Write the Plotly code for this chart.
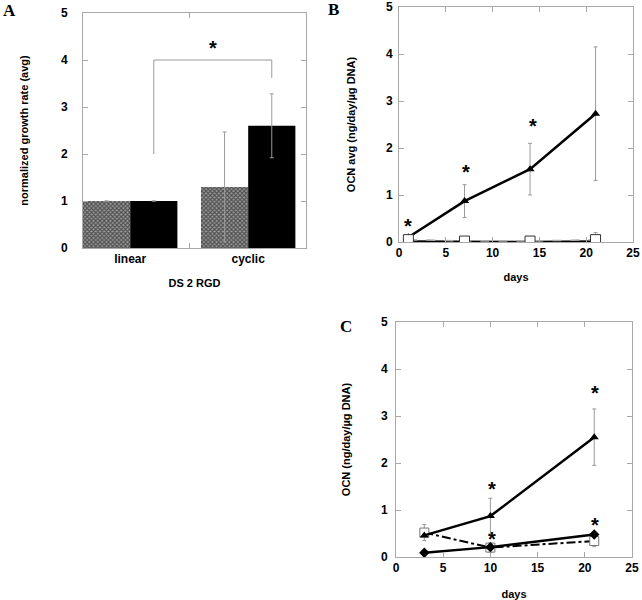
import plotly.graph_objects as go

# ---------------- data ----------------
# Panel A
a_categories = ["linear", "cyclic"]
a_gray = [1.0, 1.3]
a_gray_err = [0.0, 1.17]
a_black = [1.0, 2.6]
a_black_err = [0.0, 0.68]
a_bracket_x = [0.2, 0.2, 1.2, 1.2]
a_bracket_y = [2.0, 4.0, 4.0, 3.62]
a_star_x = [0.7]
a_star_y = [4.36]

# Panel B
b_days = [1, 7, 14, 21]
b_tri = [0.1, 0.87, 1.55, 2.73]
b_tri_err = [0.0, 0.35, 0.55, 1.42]
b_sq = [0.05, 0.02, 0.02, 0.05]
b_sq_err = [0.0, 0.0, 0.0, 0.15]
b_base = [0.01, 0.0, 0.0, 0.01]
b_star_x = [1.0, 7.2, 14.3]
b_star_y = [0.45, 1.6, 2.57]

# Panel C
c_days = [3, 10, 21]
c_tri = [0.46, 0.87, 2.55]
c_tri_err = [0.0, 0.38, 0.6]
c_sq = [0.52, 0.2, 0.34]
c_sq_err = [0.17, 0.1, 0.12]
c_dia = [0.09, 0.21, 0.48]
c_dia_err = [0.0, 0.05, 0.05]
c_star_x = [10.15, 10.15, 21.1, 21.1]
c_star_y = [1.56, 0.5, 3.6, 0.78]

W, H = 642, 600
def dx(p0, p1):
    return [p0 / W, p1 / W]
def dy(p_bottom, p_top):
    return [1 - p_bottom / H, 1 - p_top / H]

FRAME = "#a8a8a8"
ERR = "#9a9a9a"
FONT = "Liberation Sans"

fig = go.Figure()

# ---- Panel A ----
fig.add_trace(go.Bar(
    x=a_categories, y=a_gray, xaxis="x", yaxis="y",
    marker=dict(color="#707070", line=dict(width=0),
                pattern=dict(shape="x", size=3, solidity=0.6, fgcolor="#000000", bgcolor="#9c9c9c")),
    error_y=dict(type="data", array=a_gray_err, color=ERR, thickness=1, width=2),
    showlegend=False))
fig.add_trace(go.Bar(
    x=a_categories, y=a_black, xaxis="x", yaxis="y",
    marker=dict(color="black", line=dict(width=0)),
    error_y=dict(type="data", array=a_black_err, color=ERR, thickness=1, width=2),
    showlegend=False))

# bracket (numeric overlay axis x4 sharing A's domain)
fig.add_trace(go.Scatter(
    x=a_bracket_x, y=a_bracket_y, xaxis="x4", yaxis="y",
    mode="lines", line=dict(color=ERR, width=1), showlegend=False))

# ---- Panel B ----
fig.add_trace(go.Scatter(
    x=b_days, y=b_base, xaxis="x2", yaxis="y2", mode="lines",
    line=dict(color="black", width=2.5), showlegend=False))
fig.add_trace(go.Scatter(
    x=b_days, y=b_tri, xaxis="x2", yaxis="y2", mode="lines+markers",
    line=dict(color="black", width=2.5),
    marker=dict(symbol="triangle-up", size=8, color="black"),
    error_y=dict(type="data", array=b_tri_err, color=ERR, thickness=1, width=2),
    showlegend=False))
fig.add_trace(go.Scatter(
    x=b_days, y=b_sq, xaxis="x2", yaxis="y2", mode="lines+markers",
    line=dict(color="#aaaaaa", width=1.5, dash="dash"),
    marker=dict(symbol="square", size=10, color="white", line=dict(color="#333333", width=1)),
    error_y=dict(type="data", array=b_sq_err, color=ERR, thickness=1, width=2),
    showlegend=False))

# ---- Panel C ----
fig.add_trace(go.Scatter(
    x=c_days, y=c_sq, xaxis="x3", yaxis="y3", mode="lines+markers",
    line=dict(color="black", width=2, dash="dashdot"),
    marker=dict(symbol="square", size=9, color="white", line=dict(color="#777777", width=1)),
    error_y=dict(type="data", array=c_sq_err, color=ERR, thickness=1, width=2),
    showlegend=False))
fig.add_trace(go.Scatter(
    x=c_days, y=c_dia, xaxis="x3", yaxis="y3", mode="lines+markers",
    line=dict(color="black", width=2.5),
    marker=dict(symbol="diamond", size=8, color="black"),
    error_y=dict(type="data", array=c_dia_err, color=ERR, thickness=1, width=2),
    showlegend=False))
fig.add_trace(go.Scatter(
    x=c_days, y=c_tri, xaxis="x3", yaxis="y3", mode="lines+markers",
    line=dict(color="black", width=2.5),
    marker=dict(symbol="triangle-up", size=8, color="black"),
    error_y=dict(type="data", array=c_tri_err, color=ERR, thickness=1, width=2),
    showlegend=False))

tickfont = dict(family=FONT, size=12, color="black", weight="bold")
titlefont = dict(family=FONT, size=11, color="black", weight="bold")

def yax(domain, title, anchor, standoff, labstand):
    return dict(domain=domain, anchor=anchor, range=[0, 5], dtick=1,
                ticks="inside", ticklen=5, tickcolor=FRAME, mirror="ticks",
                showline=True, linecolor=FRAME, linewidth=1, showgrid=False,
                zeroline=False, tickfont=tickfont, automargin=False,
                ticklabelstandoff=labstand,
                title=dict(text=title, font=titlefont, standoff=standoff))

def xax(domain, anchor, title, standoff):
    return dict(domain=domain, anchor=anchor, range=[0, 25], dtick=5,
                ticks="inside", ticklen=5, tickcolor=FRAME, mirror="ticks",
                showline=True, linecolor=FRAME, linewidth=1, showgrid=False,
                zeroline=False, tickfont=tickfont, automargin=False,
                title=dict(text=title, font=titlefont, standoff=standoff))

fig.update_layout(
    width=W, height=H, margin=dict(l=0, r=0, t=0, b=0, autoexpand=False),
    paper_bgcolor="white", plot_bgcolor="white",
    barmode="group", bargap=0.2, bargroupgap=0,
    xaxis=dict(domain=dx(83, 306), anchor="y", range=[-0.4, 1.49],
               type="category", tickson="boundaries",
               ticks="inside", ticklen=5, tickcolor=FRAME, mirror="ticks",
               showline=True, linecolor=FRAME, linewidth=1, showgrid=False,
               tickfont=tickfont, automargin=False,
               title=dict(text="DS 2 RGD", font=titlefont, standoff=13)),
    xaxis4=dict(domain=dx(83, 306), anchor="y", overlaying="x", range=[-0.4, 1.49],
                visible=False, automargin=False),
    yaxis=yax(dy(248, 13), "normalized growth rate (avg)", "x", 30, 12),
    xaxis2=xax(dx(399, 633), "y2", "days", 13),
    yaxis2=yax(dy(242, 7), "OCN avg (ng/day/µg DNA)", "x2", 28, 3),
    xaxis3=xax(dx(396, 632), "y3", "days", 17),
    yaxis3=yax(dy(557, 322), "OCN (ng/day/µg DNA)", "x3", 28, 5),
)

ann = []
starfont = dict(family=FONT, size=20, color="black", weight="bold")
for xs, ys, xr, yr in [(a_star_x, a_star_y, "x4", "y"),
                       (b_star_x, b_star_y, "x2", "y2"),
                       (c_star_x, c_star_y, "x3", "y3")]:
    for xv, yv in zip(xs, ys):
        ann.append(dict(x=xv, y=yv, xref=xr, yref=yr, text="*", showarrow=False,
                        font=starfont, yanchor="middle", yshift=-5))

labfont = dict(family="Liberation Serif", size=17, color="black", weight="bold")
for t, px, py in [("A", 9, 11), ("B", 334, 9), ("C", 346, 326)]:
    ann.append(dict(x=px / W, y=1 - py / H, xref="paper", yref="paper", text=t,
                    showarrow=False, font=labfont, xanchor="center", yanchor="middle"))
fig.update_layout(annotations=ann)

fig.write_html("out.html", config={"displayModeBar": False},
               post_script="document.body.style.margin='0';document.body.style.overflow='hidden';")
